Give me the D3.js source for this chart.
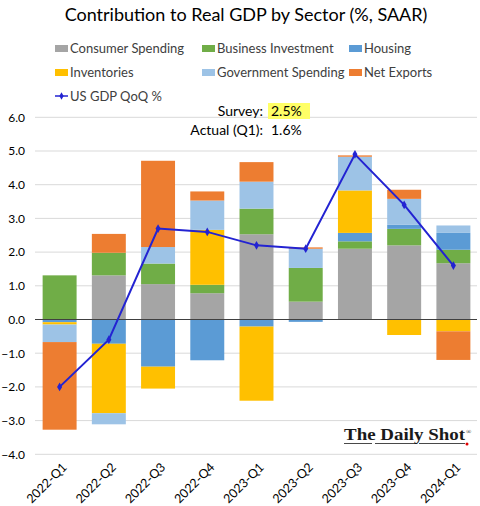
<!DOCTYPE html>
<html>
<head>
<meta charset="utf-8">
<script src="https://cdn.jsdelivr.net/npm/d3@7"></script>
<style>
  html, body { margin: 0; padding: 0; background: #fff; }
  svg { display: block; font-family: Lato, "Open Sans", sans-serif; }
</style>
</head>
<body>
<svg id="chart" width="480" height="506"></svg>
<script>
const categories = ["2022-Q1","2022-Q2","2022-Q3","2022-Q4","2023-Q1","2023-Q2","2023-Q3","2023-Q4","2024-Q1"];
const consumerSpending   = [0.00, 1.31, 1.05, 0.78, 2.53, 0.53, 2.10, 2.20, 1.67];
const businessInvestment = [1.31, 0.67, 0.61, 0.25, 0.76, 1.00, 0.22, 0.49, 0.40];
const housing            = [-0.08, -0.72, -1.40, -1.21, -0.21, -0.07, 0.25, 0.12, 0.50];
const inventories        = [-0.07, -2.06, -0.65, 1.63, -2.20, 0.00, 1.26, -0.46, -0.35];
const governmentSpending = [-0.52, -0.33, 0.49, 0.87, 0.80, 0.57, 1.00, 0.77, 0.22];
const netExports         = [-2.60, 0.56, 2.56, 0.27, 0.58, 0.04, 0.04, 0.27, -0.85];
const gdpQoQ             = [-2.0, -0.6, 2.7, 2.6, 2.2, 2.1, 4.9, 3.4, 1.6];
const yTicks = [-4, -3, -2, -1, 0, 1, 2, 3, 4, 5, 6];

const seriesNames = ["Consumer Spending","Business Investment","Housing","Inventories","Government Spending","Net Exports"];
const seriesValues = [consumerSpending, businessInvestment, housing, inventories, governmentSpending, netExports];
const colors = ["#a5a5a5","#70ad47","#5b9bd5","#ffc000","#9dc3e6","#ed7d31"];
const lineColor = "#2323d2";

const svg = d3.select("#chart");

const x = d3.scaleBand().domain(categories).range([35, 478]).paddingInner(0.31).paddingOuter(0.155);
const y = d3.scaleLinear().domain([-4, 6]).range([454.3, 117.3]);

const table = categories.map((c, i) => {
  const row = { cat: c };
  seriesNames.forEach((s, j) => row[s] = seriesValues[j][i]);
  return row;
});
const stacked = d3.stack().keys(seriesNames).offset(d3.stackOffsetDiverging)(table);

// Title
svg.append("text").attr("x", 246).attr("y", 21).attr("text-anchor", "middle")
  .attr("font-size", 18).attr("fill", "#000").text("Contribution to Real GDP by Sector (%, SAAR)");

// gridlines
svg.append("g").selectAll("line").data(yTicks.filter(d => d !== 0)).join("line")
  .attr("x1", 35).attr("x2", 477).attr("y1", d => y(d)).attr("y2", d => y(d))
  .attr("stroke", "#d9d9d9").attr("stroke-width", 1);

// y axis labels
const yAxis = d3.axisLeft(y).tickValues(yTicks).tickFormat(d3.format(".1f")).tickSize(0).tickPadding(0);
const yg = svg.append("g").attr("transform", "translate(25,0)").call(yAxis);
yg.select(".domain").remove();
yg.selectAll("text").attr("font-family", "Lato, 'Open Sans', sans-serif").attr("font-size", 12).attr("fill", "#000");

// bars
svg.append("g").selectAll("g").data(stacked).join("g")
  .attr("fill", (d, i) => colors[i])
  .selectAll("rect").data(d => d).join("rect")
  .attr("x", d => x(d.data.cat))
  .attr("width", x.bandwidth())
  .attr("y", d => y(Math.max(d[0], d[1])))
  .attr("height", d => Math.abs(y(d[0]) - y(d[1])));

// zero line
svg.append("line").attr("x1", 35).attr("x2", 477).attr("y1", y(0)).attr("y2", y(0))
  .attr("stroke", "#404040").attr("stroke-width", 1.2);

// GDP line
const line = d3.line().x((d, i) => x(categories[i]) + x.bandwidth() / 2).y(d => y(d));
svg.append("path").datum(gdpQoQ).attr("d", line).attr("fill", "none")
  .attr("stroke", lineColor).attr("stroke-width", 2);
svg.append("g").selectAll("path").data(gdpQoQ).join("path")
  .attr("d", d3.symbol(d3.symbolDiamond, 22))
  .attr("transform", (d, i) => `translate(${x(categories[i]) + x.bandwidth() / 2},${y(d)})`)
  .attr("fill", lineColor);

// x labels
const xAxis = d3.axisBottom(x).tickSize(0).tickPadding(0);
const xg = svg.append("g").attr("transform", "translate(0,461)").call(xAxis);
xg.select(".domain").remove();
xg.selectAll("text")
  .attr("font-family", "Lato, 'Open Sans', sans-serif").attr("font-size", 12.5).attr("fill", "#000")
  .attr("text-anchor", "end").attr("dy", "0.35em")
  .attr("transform", "translate(5,4) rotate(-45)");

// legend
const legendPos = [
  [55, 48], [202, 48], [349, 48],
  [55, 72], [202, 72], [349, 72]
];
const lg = svg.append("g");
seriesNames.forEach((s, i) => {
  const [lx, ly] = legendPos[i];
  lg.append("rect").attr("x", lx).attr("y", ly - 3).attr("width", 13).attr("height", 7).attr("fill", colors[i]);
  lg.append("text").attr("x", lx + 15).attr("y", ly + 5).attr("font-size", 13).attr("fill", "#404040").text(s);
});
lg.append("line").attr("x1", 55).attr("x2", 68).attr("y1", 96).attr("y2", 96).attr("stroke", lineColor).attr("stroke-width", 1.5);
lg.append("path").attr("d", d3.symbol(d3.symbolDiamond, 16)).attr("transform", "translate(61.5,96)").attr("fill", lineColor);
lg.append("text").attr("x", 70).attr("y", 101).attr("font-size", 13).attr("fill", "#404040").text("US GDP QoQ %");

// annotations
svg.append("rect").attr("x", 268).attr("y", 103).attr("width", 42).attr("height", 16).attr("fill", "#ffff66");
svg.append("text").attr("x", 263).attr("y", 116).attr("text-anchor", "end").attr("font-size", 14).attr("fill", "#000").text("Survey:");
svg.append("text").attr("x", 271).attr("y", 116).attr("font-size", 14).attr("fill", "#000").text("2.5%");
svg.append("text").attr("x", 263).attr("y", 135).attr("text-anchor", "end").attr("font-size", 14).attr("fill", "#000").text("Actual (Q1):");
svg.append("text").attr("x", 271).attr("y", 135).attr("font-size", 14).attr("fill", "#000").text("1.6%");

// watermark
const wm = svg.append("g");
wm.append("text").attr("x", 344).attr("y", 440).attr("font-family", "'Liberation Serif', 'DejaVu Serif', serif")
  .attr("font-size", 17).attr("font-weight", "bold").attr("fill", "#1a1a1a")
  .attr("textLength", 121).attr("lengthAdjust", "spacingAndGlyphs").text("The Daily Shot");
wm.append("text").attr("x", 466).attr("y", 434).attr("font-family", "'Liberation Serif', serif")
  .attr("font-size", 7).attr("fill", "#1a1a1a").text("®");
[[344, 372], [375, 416], [419, 465]].forEach(([a, b]) =>
  wm.append("line").attr("x1", a).attr("x2", b).attr("y1", 443.5).attr("y2", 443.5).attr("stroke", "#1a1a1a").attr("stroke-width", 0.8));
wm.append("circle").attr("cx", 467).attr("cy", 444).attr("r", 1.5).attr("fill", "#e00000");
</script>
</body>
</html>
